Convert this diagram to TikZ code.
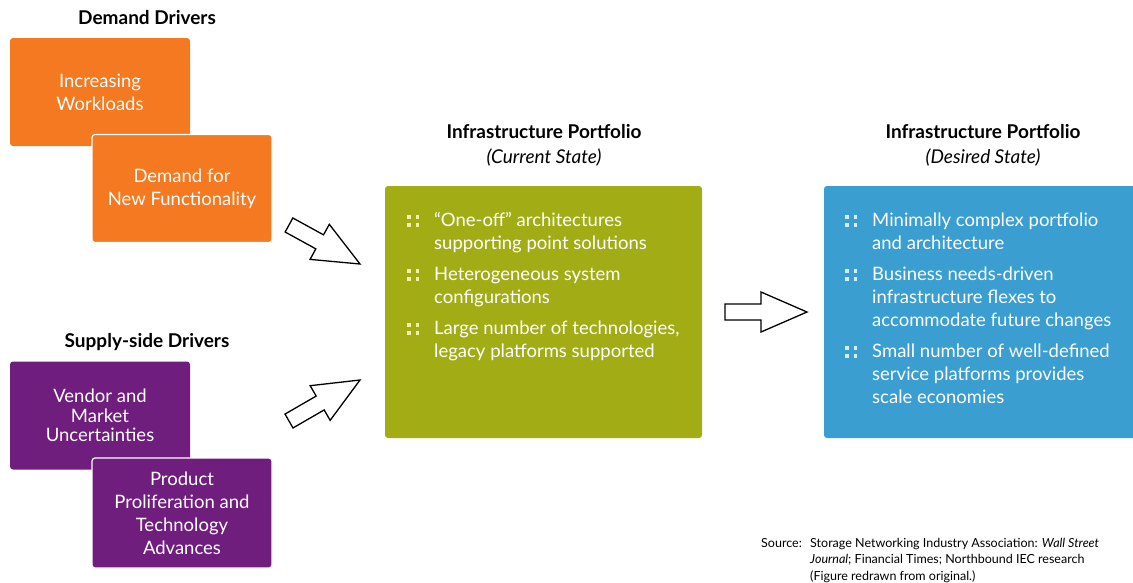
\documentclass[tikz,border=0pt]{standalone}
\usepackage{fontspec}
\setmainfont{Lato}
\usetikzlibrary{calc}
\definecolor{drvorange}{RGB}{244,121,32}
\definecolor{drvpurple}{RGB}{111,30,126}
\definecolor{curgreen}{RGB}{162,173,22}
\definecolor{desblue}{RGB}{58,158,209}
\definecolor{curdots}{RGB}{240,242,170}
\definecolor{desdots}{RGB}{214,236,248}
\tikzset{
  drvbox/.style={rounded corners=3pt, minimum width=180pt, minimum height=108pt,
    inner sep=0pt, text=white, align=center, font=\fontsize{18.5}{23}\selectfont},
  topbox/.style={drvbox, draw=white, line width=1.2pt},
  portbox/.style={rounded corners=3pt, minimum width=317pt, minimum height=252pt, inner sep=0pt},
  blist/.style={anchor=north west, inner sep=0pt, text=white, font=\fontsize{18.5}{23}\selectfont},
  heading/.style={align=center, font=\fontsize{19}{25}\selectfont},
  hollow/.style={draw=black, fill=white, line width=1.3pt, line join=miter}
}
% square-dot colon and the two-colon bullet
\newcommand{\pcolon}{\rlap{\rule{3.5pt}{3.5pt}}\raisebox{8pt}{\rule{3.5pt}{3.5pt}}}
\newcommand{\pdots}[1]{\textcolor{#1}{\pcolon\kern5pt\pcolon}}
% hollow block arrow from #1 to #2
\newcommand{\blockarrow}[2]{%
  \coordinate (#1-h) at ($(#2)!46pt!(#1)$);
  \draw[hollow] ($(#1)!8pt!90:(#2)$) -- ($(#1-h)!8pt!-90:(#1)$) -- ($(#1-h)!20pt!-90:(#1)$)
    -- (#2) -- ($(#1-h)!20pt!90:(#1)$) -- ($(#1-h)!8pt!90:(#1)$) -- ($(#1)!8pt!-90:(#2)$) -- cycle;}
\begin{document}
\begin{tikzpicture}[x=1pt,y=-1pt]
    \useasboundingbox (0,0) rectangle (1133,582);
    % demand drivers
    \node[heading] (demhead) at (147,18) {\textbf{Demand Drivers}};
    \node[drvbox, fill=drvorange] (work) at (100,92) {Increasing\\Workloads};
    \node[topbox, fill=drvorange] (func) at (182,188.5) {Demand for\\New Functionality};
    % supply-side drivers
    \node[heading] (suphead) at (147,342) {\textbf{Supply-side Drivers}};
    \node[drvbox, fill=drvpurple, font=\fontsize{18.5}{19.5}\selectfont] (vend) at (100,415.5)
      {Vendor and\\Market\\Uncertainties};
    \node[topbox, fill=drvpurple, minimum height=110pt] (prol) at (182,513)
      {Product\\Proliferation and\\Technology\\Advances};
    % current state
    \node[heading] (curhead) at (544,145) {\textbf{Infrastructure Portfolio}\\\textit{(Current State)}};
    \node[portbox, fill=curgreen] (cur) at (543.5,312) {};
    \node[blist] (curlist) at (407,210.5) {%
      \begin{tabular}{@{}p{27pt}@{}l@{}}
      \pdots{curdots} & “One-off” architectures\\
       & supporting point solutions\\[8pt]
      \pdots{curdots} & Heterogeneous system\\
       & configurations\\[8pt]
      \pdots{curdots} & Large number of technologies,\\
       & legacy platforms supported
      \end{tabular}};
    % desired state
    \node[heading] (deshead) at (983,145) {\textbf{Infrastructure Portfolio}\\\textit{(Desired State)}};
    \node[portbox, fill=desblue] (des) at (982.5,312) {};
    \node[blist] (deslist) at (845,210.5) {%
      \begin{tabular}{@{}p{27pt}@{}l@{}}
      \pdots{desdots} & Minimally complex portfolio\\
       & and architecture\\[8pt]
      \pdots{desdots} & Business needs-driven\\
       & infrastructure flexes to\\
       & accommodate future changes\\[8pt]
      \pdots{desdots} & Small number of well-defined\\
       & service platforms provides\\
       & scale economies
      \end{tabular}};
    % block arrows
    \coordinate (a1s) at (289,225);
    \coordinate (a1e) at (360,264);
    \coordinate (a2s) at (289,421);
    \coordinate (a2e) at (360,380);
    \coordinate (a3s) at (725,312);
    \coordinate (a3e) at (807,312);
    \blockarrow{a1s}{a1e}
    \blockarrow{a2s}{a2e}
    \blockarrow{a3s}{a3e}
    % source note
    \node[anchor=north west, inner sep=0pt, font=\fontsize{12.5}{16.5}\selectfont] (src) at (761,535.5) {%
      \begin{tabular}{@{}p{49pt}@{}l@{}}
      Source: & Storage Networking Industry Association: \textit{Wall Street}\\
       & \textit{Journal}; Financial Times; Northbound IEC research\\
       & (Figure redrawn from original.)
      \end{tabular}};
\end{tikzpicture}
\end{document}
